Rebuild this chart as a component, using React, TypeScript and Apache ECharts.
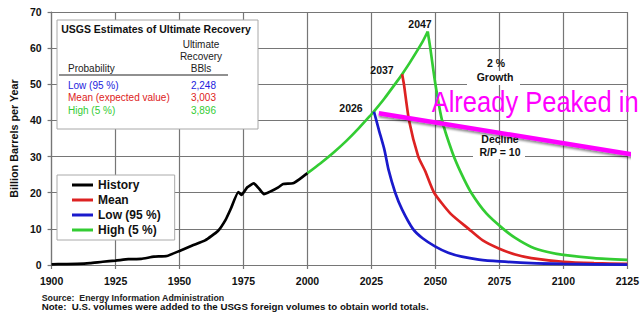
import React, { useEffect, useRef } from "react";
import * as echarts from "echarts";

// ---- data ----
const xTicks = [1900, 1925, 1950, 1975, 2000, 2025, 2050, 2075, 2100, 2125];
const yTicks = [0, 10, 20, 30, 40, 50, 60, 70];

const historyYears = [1900, 1905, 1910, 1915, 1920, 1925, 1930, 1935, 1940, 1945, 1950, 1955, 1960, 1965, 1968, 1970, 1973, 1974.2, 1976.5, 1979, 1981, 1983, 1985.4, 1988.6, 1990.5, 1994.3, 1996.8, 2000];
const historyValues = [0.2, 0.25, 0.3, 0.5, 0.9, 1.2, 1.6, 1.7, 2.3, 2.5, 3.9, 5.4, 6.8, 9.4, 12.5, 15.5, 20.2, 19.4, 21.5, 22.6, 21.2, 19.6, 20.3, 21.5, 22.4, 22.6, 23.7, 25.4];

const growthYears = [2000, 2005, 2010, 2015, 2020, 2025, 2026, 2030, 2035, 2037, 2040, 2045, 2047];
const growthValues = [25.4, 28.1, 31.0, 34.2, 37.8, 41.7, 42.5, 46.0, 50.8, 52.8, 56.0, 61.8, 64.6];

const highFallYears = [2047, 2048, 2050, 2052.6, 2056.7, 2060, 2064, 2070, 2076.5, 2081.2, 2087.5, 2093.9, 2100, 2112, 2125];
const highFallValues = [64.6, 60, 50, 40, 31, 25.5, 20, 14.2, 10, 7.5, 5.0, 3.6, 2.8, 1.9, 1.4];

const meanYears = [2037, 2037.7, 2039.7, 2043.3, 2046, 2049.5, 2055.8, 2063, 2068.5, 2075, 2081.2, 2087.5, 2100, 2112, 2125];
const meanValues = [52.8, 50, 40, 30, 26, 20, 14.3, 10, 6.8, 4.5, 2.9, 1.9, 0.9, 0.5, 0.3];

const lowYears = [2026, 2027.9, 2030.1, 2031.7, 2034.3, 2037, 2041.2, 2045, 2050, 2055, 2060.3, 2067, 2075, 2087.5, 2100, 2125];
const lowValues = [42.4, 37.4, 31.8, 26.3, 20, 15.3, 10, 7.4, 5.1, 3.4, 2.3, 1.5, 1.0, 0.5, 0.3, 0.1];

const peakedYears = [2027.9, 2127.7];
const peakedValues = [42.0, 30.5];

const legendNames = ["History", "Mean", "Low (95 %)", "High (5 %)"];
const tableRows = ["Low (95 %)", "Mean (expected value)", "High (5 %)"];
const tableValues = ["2,248", "3,003", "3,896"];
const tableColors = ["#2222dd", "#dd2222", "#33cc33"];
const peakLabels = ["2026", "2037", "2047"];

const FONT = 'Arial, "Liberation Sans", sans-serif';
const zip = (xs: number[], ys: number[]) => xs.map((x, i) => [x, ys[i]]);

function txt(text: string, x: number, y: number, font: string, fill = "#111", align = "center", z = 5) {
  return {
    type: "text",
    z,
    style: {
      text, x, y, font, fill,
      textAlign: align, align,
      textVerticalAlign: "middle", verticalAlign: "middle",
    },
  };
}

export default function App() {
  const ref = useRef<HTMLDivElement>(null);
  useEffect(() => {
    const chart = echarts.init(ref.current!, null, { renderer: "svg" });
    const gridColor = "#767676";
    const lineSeries = (name: string, data: number[][], color: string, smooth = 0.2) => ({
      type: "line",
      name,
      data,
      showSymbol: false,
      smooth,
      z: 3,
      lineStyle: { color, width: 2.7 },
      itemStyle: { color },
    });
    const tableFont = `10px ${FONT}`;
    const graphic: any[] = [
      { type: "rect", z: 50, shape: { x: 57, y: 20, width: 201, height: 109 }, style: { fill: "#fff", stroke: "#a8a8a8", lineWidth: 1 } },
      txt("USGS Estimates of Ultimate Recovery", 156, 29, `bold 10.5px ${FONT}`, "#111", "center", 51),
      txt("Ultimate", 201, 44, tableFont, "#222", "center", 51),
      txt("Recovery", 201, 56, tableFont, "#222", "center", 51),
      txt("BBls", 201, 68, tableFont, "#222", "center", 51),
      txt("Probability", 68, 68, tableFont, "#222", "left", 51),
      { type: "line", z: 51, shape: { x1: 59, y1: 75, x2: 228, y2: 75 }, style: { stroke: "#222", lineWidth: 1.2 } },
      ...tableRows.map((r, i) => txt(r, 68, 85 + i * 12.5, tableFont, tableColors[i], "left", 51)),
      ...tableValues.map((v, i) => txt(v, 216, 85 + i * 12.5, tableFont, tableColors[i], "right", 51)),
      txt(peakLabels[0], 351, 108, `bold 10.5px ${FONT}`),
      txt(peakLabels[1], 382, 70, `bold 10.5px ${FONT}`),
      txt(peakLabels[2], 420, 24, `bold 10.5px ${FONT}`),
      txt("2 %", 496, 63, `bold 10.5px ${FONT}`),
      { type: "rect", z: 4, shape: { x: 467, y: 71, width: 53, height: 14 }, style: { fill: "#fff" } },
      txt("Growth", 495, 77, `bold 10.5px ${FONT}`),
      txt("Decline", 500, 139, `bold 10.5px ${FONT}`),
      { type: "rect", z: 4, shape: { x: 473, y: 145, width: 52, height: 14 }, style: { fill: "#fff" } },
      txt("R/P = 10", 500, 152, `bold 10.5px ${FONT}`),
      {
        type: "text",
        z: 20,
        x: 431.7,
        y: 101.4,
        scaleY: 1.15,
        style: {
          text: "Already Peaked in", x: 0, y: 0, font: `25.5px ${FONT}`, fill: "#ff00ff",
          textAlign: "left", align: "left", textVerticalAlign: "middle", verticalAlign: "middle",
        },
      },
      txt("Source:  Energy Information Administration", 41.7, 297.5, `bold 8.8px ${FONT}`, "#222", "left"),
      txt("Note:  U.S. volumes were added to the USGS foreign volumes to obtain world totals.", 41.7, 306.8, `bold 9.7px ${FONT}`, "#111", "left"),
    ];
    const axisLabel = {
      color: "#111", fontWeight: "bold", fontSize: 10.5, margin: 10, fontFamily: FONT,
      formatter: (v: number) => String(v),
    };
    const option: any = {
      animation: false,
      backgroundColor: "#fff",
      textStyle: { fontFamily: FONT },
      grid: { left: 44, right: 7, top: 12, bottom: 49, containLabel: false },
      xAxis: {
        type: "value",
        min: xTicks[0],
        max: xTicks[xTicks.length - 1],
        interval: 25,
        axisLine: { show: true, lineStyle: { color: gridColor, width: 1.2 } },
        axisTick: { show: true, length: 4, lineStyle: { color: gridColor, width: 1.2 } },
        splitLine: { show: true, lineStyle: { color: gridColor, width: 1.2 } },
        axisLabel,
      },
      yAxis: {
        type: "value",
        min: yTicks[0],
        max: yTicks[yTicks.length - 1],
        interval: 10,
        name: "Billion Barrels per Year",
        nameLocation: "middle",
        nameGap: 25,
        nameTextStyle: { color: "#111", fontWeight: "bold", fontSize: 10.8, fontFamily: FONT },
        axisLine: { show: true, lineStyle: { color: gridColor, width: 1.2 } },
        axisTick: { show: true, length: 4, lineStyle: { color: gridColor, width: 1.2 } },
        splitLine: { show: true, lineStyle: { color: gridColor, width: 1.2 } },
        axisLabel,
      },
      legend: {
        data: legendNames.map((n) => ({ name: n, icon: "rect" })),
        orient: "vertical",
        left: 57,
        top: 175,
        itemWidth: 21,
        itemHeight: 3,
        itemGap: 3,
        padding: [4, 14, 4, 15],
        backgroundColor: "#fff",
        borderColor: "#aaa",
        borderWidth: 1,
        textStyle: { color: "#111", fontWeight: "bold", fontSize: 12, fontFamily: FONT },
      },
      graphic,
      series: [
        lineSeries("History", zip(historyYears, historyValues), "#000", 0.15),
        lineSeries("High (5 %)", zip(growthYears, growthValues), "#33cc33", 0.2),
        lineSeries("High (5 %)", zip(highFallYears, highFallValues), "#33cc33", 0.2),
        lineSeries("Mean", zip(meanYears, meanValues), "#dd2222", 0.2),
        lineSeries("Low (95 %)", zip(lowYears, lowValues), "#1a1acc", 0.2),
        {
          type: "line",
          name: "Already Peaked",
          data: zip(peakedYears, peakedValues),
          showSymbol: false,
          clip: false,
          z: 10,
          silent: true,
          lineStyle: { color: "#ff00ff", width: 4.5, shadowColor: "rgba(0,0,0,0.45)", shadowBlur: 2, shadowOffsetY: 2 },
          itemStyle: { color: "#ff00ff" },
        },
      ],
    };
    chart.setOption(option);
    return () => chart.dispose();
  }, []);
  return <div ref={ref} style={{ position: "absolute", left: 0, top: 0, width: 642, height: 314 }} />;
}
